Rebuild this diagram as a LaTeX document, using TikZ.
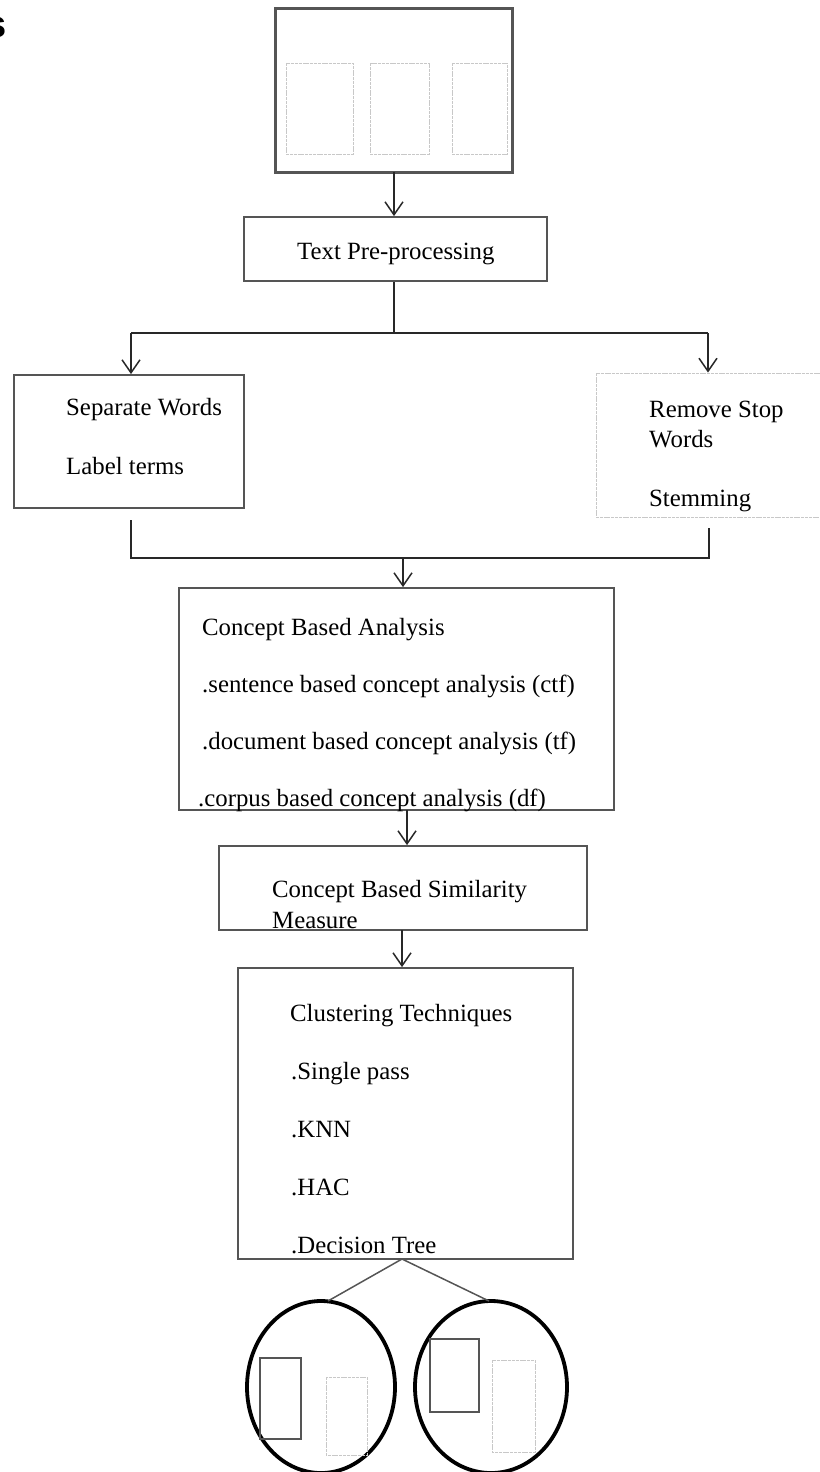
\documentclass[tikz,border=0pt]{standalone}
\usepackage{fontspec}
\setmainfont{Liberation Serif}
\newfontfamily\headsans{Liberation Sans}
\usetikzlibrary{arrows.meta,shapes.geometric}
\definecolor{boxgray}{RGB}{85,85,85}
\definecolor{lightline}{RGB}{200,200,200}
\definecolor{linecol}{RGB}{40,40,40}
\begin{document}
\begin{tikzpicture}[x=1pt,y=-1pt,
  box/.style={draw=boxgray, line width=1.8pt, rectangle, inner sep=0pt},
  lightbox/.style={draw=lightline, line width=0.9pt, dash pattern=on 3pt off 0.8pt},
  darkbox/.style={draw=boxgray, line width=1.8pt},
  conn/.style={draw=linecol, line width=1.5pt},
  arr/.style={draw=linecol, line width=1.5pt, -{Straight Barb[length=13pt,width=18pt,line width=1.5pt]}},
  txt/.style={anchor=base west, inner sep=0pt, font=\fontsize{24.8}{30}\selectfont},
  circ/.style={draw=black, ellipse, line width=3.8pt, inner sep=0pt}]
\useasboundingbox (0,0) rectangle (819,1472);

% cut-off heading letter
\node[anchor=base east, inner sep=0pt, font=\headsans\bfseries\fontsize{38}{40}\selectfont] (hs) at (7,38) {s};

% document set at the top
\node[box, line width=3pt, minimum width=237, minimum height=163] (docs) at (393.5,90.5) {};
\draw[lightbox] (286,63) rectangle (353,154);
\draw[lightbox] (370,63) rectangle (429,154);
\draw[lightbox] (452,63) rectangle (507,154);

% text pre-processing
\node[box, minimum width=303, minimum height=64] (tp) at (395.5,249) {};
\node[txt] (tptxt) at (297,259) {Text Pre-processing};

% left branch
\node[box, minimum width=230, minimum height=133] (sw) at (129,441.5) {};
\node[txt] (sw1) at (66,415) {Separate Words};
\node[txt] (sw2) at (66,474) {Label terms};

% right branch (runs off the page)
\node[lightbox, rectangle, inner sep=0pt, minimum width=234, minimum height=144] (rs) at (713,445) {};
\node[txt] (rs1) at (649,417) {Remove Stop};
\node[txt] (rs2) at (649,447) {Words};
\node[txt] (rs3) at (649,506) {Stemming};

% concept based analysis
\node[box, minimum width=435, minimum height=222] (ca) at (396.5,699) {};
\node[txt] (ca1) at (202,635) {Concept Based Analysis};
\node[txt] (ca2) at (202,692) {.sentence based concept analysis (ctf)};
\node[txt] (ca3) at (202,749) {.document based concept analysis (tf)};
\node[txt] (ca4) at (198,806) {.corpus based concept analysis (df)};

% similarity measure
\node[box, minimum width=368, minimum height=84] (sim) at (403,888) {};
\node[txt] (sim1) at (272,897) {Concept Based Similarity};
\node[txt] (sim2) at (272,928) {Measure};

% clustering techniques
\node[box, minimum width=335, minimum height=291] (ct) at (405.5,1113.5) {};
\node[txt] (ct1) at (290,1021) {Clustering Techniques};
\node[txt] (ct2) at (291,1079) {.Single pass};
\node[txt] (ct3) at (291,1137) {.KNN};
\node[txt] (ct4) at (291,1195) {.HAC};
\node[txt] (ct5) at (291,1253) {.Decision Tree};

% clusters
\node[circ, minimum width=148, minimum height=172] (c1) at (321,1387) {};
\node[circ, minimum width=152, minimum height=172] (c2) at (491,1387) {};
\draw[darkbox] (260,1358) rectangle (301,1439);
\draw[lightbox] (326,1377) rectangle (367,1455);
\draw[darkbox] (430,1339) rectangle (479,1412);
\draw[lightbox] (492,1360) rectangle (535,1452);

% connector points
\coordinate (a0) at (394,172);
\coordinate (j0) at (394,333);
\coordinate (jl) at (131,333);
\coordinate (jr) at (708,333);
\coordinate (kl0) at (131,520);
\coordinate (kr0) at (709,528);
\coordinate (kl) at (131,558);
\coordinate (kr) at (709,558);
\coordinate (km) at (403,558);
\coordinate (a3) at (407,810);
\coordinate (a4) at (402,930);
\coordinate (tip) at (402,1259);
\coordinate (c1t) at (328,1301);
\coordinate (c2t) at (489,1301);

% connectors
\draw[arr] (a0) -- (a0 |- tp.north);
\draw[conn] (tp.south -| j0) -- (j0);
\draw[conn] (jl) -- (jr);
\draw[arr] (jl) -- (jl |- sw.north);
\draw[arr] (jr) -- (jr |- rs.north);
\draw[conn] (kl0) -- (kl) -- (kr) -- (kr0);
\draw[arr] (km) -- (km |- ca.north);
\draw[arr] (a3) -- (a3 |- sim.north);
\draw[arr] (a4) -- (a4 |- ct.north);
\draw[draw=boxgray, line width=1.5pt] (c1t) -- (tip) -- (c2t);
\end{tikzpicture}
\end{document}
